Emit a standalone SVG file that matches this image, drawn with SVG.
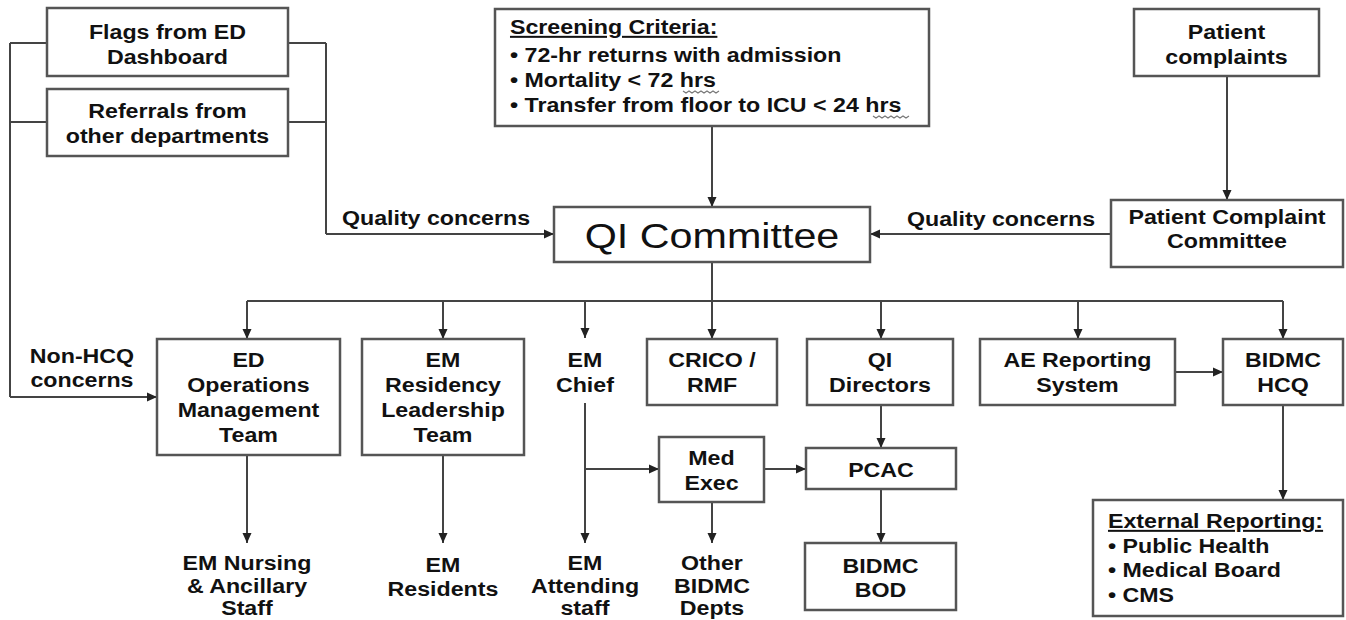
<svg xmlns="http://www.w3.org/2000/svg" width="1346" height="620" viewBox="0 0 1346 620">
<style>
  rect { fill: #fff; stroke: #555; stroke-width: 2.5; }
  text { font-family: "Liberation Sans", Arial, sans-serif; font-weight: bold; font-size: 20px; fill: #111; text-anchor: middle;
         transform-box: fill-box; transform-origin: center; transform: scaleX(1.16); }
  text.l { text-anchor: start; transform-origin: left center; }
  text.u { text-decoration: underline; }
  text.big { font-weight: normal; font-size: 35px; transform: scaleX(1.18); }
  #connectors path { fill: none; stroke: #444; stroke-width: 2; }
  #connectors path.arr { marker-end: url(#ah); }
  .squig { fill: none; stroke: #777; stroke-width: 1.2; }
</style>
<defs>
  <marker id="ah" markerUnits="userSpaceOnUse" markerWidth="10" markerHeight="10" refX="10" refY="5" orient="auto">
    <path d="M0,0.5 L10,5 L0,9.5 z" fill="#222"/>
  </marker>
</defs>
<rect x="0" y="0" width="1346" height="620" style="fill:#fff;stroke:none"/>

<g id="connectors">
  <!-- left sources to QI Committee -->
  <path d="M288,43 H326 M288,122 H326 M326,43 V234"/>
  <path class="arr" d="M326,234 H554"/>
  <!-- left sources to ED Ops (Non-HCQ) -->
  <path d="M47,43 H10 M47,122 H10 M10,43 V397"/>
  <path class="arr" d="M10,397 H157"/>
  <!-- screening to QI -->
  <path class="arr" d="M712,126 V207"/>
  <!-- patient complaints -->
  <path class="arr" d="M1227,76 V200"/>
  <path class="arr" d="M1111,234 H870"/>
  <!-- QI distribution bus -->
  <path d="M712,262 V301 M247,301 H1283"/>
  <path class="arr" d="M247,301 V339"/>
  <path class="arr" d="M443,301 V339"/>
  <path class="arr" d="M585,301 V338"/>
  <path class="arr" d="M712,301 V339"/>
  <path class="arr" d="M881,301 V339"/>
  <path class="arr" d="M1078,301 V339"/>
  <path class="arr" d="M1283,301 V339"/>
  <!-- lower level -->
  <path class="arr" d="M247,455 V543"/>
  <path class="arr" d="M443,455 V543"/>
  <path class="arr" d="M585,403 V543"/>
  <path class="arr" d="M585,469 H659"/>
  <path class="arr" d="M764,469 H806"/>
  <path class="arr" d="M712,502 V543"/>
  <path class="arr" d="M881,405 V448"/>
  <path class="arr" d="M881,489 V543"/>
  <path class="arr" d="M1175,372 H1223"/>
  <path class="arr" d="M1283,405 V500"/>
  <!-- labels -->
  <text x="436" y="225">Quality concerns</text>
  <text x="1001" y="226">Quality concerns</text>
  <text x="82" y="363">Non-HCQ</text>
  <text x="82" y="387">concerns</text>
</g>

<g id="flags">
  <rect x="47" y="8" width="241" height="68"/>
  <text x="167.5" y="39">Flags from ED</text>
  <text x="167.5" y="64">Dashboard</text>
</g>
<g id="referrals">
  <rect x="47" y="89" width="241" height="67"/>
  <text x="167.5" y="118">Referrals from</text>
  <text x="167.5" y="143">other departments</text>
</g>
<g id="screening">
  <rect x="495" y="9" width="434" height="117"/>
  <text class="l u" x="510" y="34">Screening Criteria:</text>
  <text class="l" x="510" y="62">• 72-hr returns with admission</text>
  <text class="l" x="510" y="87">• Mortality &lt; 72 hrs</text>
  <text class="l" x="510" y="112">• Transfer from floor to ICU &lt; 24 hrs</text>
  <path class="squig" d="M683,91 l3,2 l3,-2 l3,2 l3,-2 l3,2 l3,-2 l3,2 l3,-2 l3,2 l3,-2 l3,2 l3,-2"/>
  <path class="squig" d="M873,116 l3,2 l3,-2 l3,2 l3,-2 l3,2 l3,-2 l3,2 l3,-2 l3,2 l3,-2 l3,2 l3,-2"/>
</g>
<g id="patient-complaints">
  <rect x="1134" y="9" width="185" height="67"/>
  <text x="1226.5" y="39">Patient</text>
  <text x="1226.5" y="64">complaints</text>
</g>
<g id="qi-committee">
  <rect x="554" y="207" width="316" height="55"/>
  <text class="big" x="712" y="248">QI Committee</text>
</g>
<g id="patient-complaint-committee">
  <rect x="1111" y="200" width="232" height="67"/>
  <text x="1227" y="224">Patient Complaint</text>
  <text x="1227" y="248">Committee</text>
</g>
<g id="ed-operations">
  <rect x="157" y="339" width="183" height="116"/>
  <text x="248.5" y="367">ED</text>
  <text x="248.5" y="392">Operations</text>
  <text x="248.5" y="417">Management</text>
  <text x="248.5" y="442">Team</text>
</g>
<g id="em-residency">
  <rect x="362" y="339" width="162" height="116"/>
  <text x="443" y="367">EM</text>
  <text x="443" y="392">Residency</text>
  <text x="443" y="417">Leadership</text>
  <text x="443" y="442">Team</text>
</g>
<g id="em-chief">
  <text x="585" y="367">EM</text>
  <text x="585" y="392">Chief</text>
</g>
<g id="crico">
  <rect x="647" y="339" width="130" height="66"/>
  <text x="712" y="367">CRICO /</text>
  <text x="712" y="392">RMF</text>
</g>
<g id="qi-directors">
  <rect x="807" y="339" width="146" height="66"/>
  <text x="880" y="367">QI</text>
  <text x="880" y="392">Directors</text>
</g>
<g id="ae-reporting">
  <rect x="980" y="339" width="195" height="66"/>
  <text x="1077.5" y="367">AE Reporting</text>
  <text x="1077.5" y="392">System</text>
</g>
<g id="bidmc-hcq">
  <rect x="1223" y="339" width="120" height="66"/>
  <text x="1283" y="367">BIDMC</text>
  <text x="1283" y="392">HCQ</text>
</g>
<g id="med-exec">
  <rect x="659" y="437" width="105" height="65"/>
  <text x="711.5" y="465">Med</text>
  <text x="711.5" y="490">Exec</text>
</g>
<g id="pcac">
  <rect x="806" y="448" width="150" height="41"/>
  <text x="881" y="477">PCAC</text>
</g>
<g id="bidmc-bod">
  <rect x="805" y="543" width="151" height="67"/>
  <text x="880.5" y="573">BIDMC</text>
  <text x="880.5" y="597">BOD</text>
</g>
<g id="em-nursing">
  <text x="247" y="570">EM Nursing</text>
  <text x="247" y="593">&amp; Ancillary</text>
  <text x="247" y="615">Staff</text>
</g>
<g id="em-residents">
  <text x="443" y="572">EM</text>
  <text x="443" y="596">Residents</text>
</g>
<g id="em-attending">
  <text x="585" y="570">EM</text>
  <text x="585" y="593">Attending</text>
  <text x="585" y="615">staff</text>
</g>
<g id="other-depts">
  <text x="712" y="570">Other</text>
  <text x="712" y="593">BIDMC</text>
  <text x="712" y="615">Depts</text>
</g>
<g id="external-reporting">
  <rect x="1093" y="500" width="250" height="116"/>
  <text class="l u" x="1108" y="528">External Reporting:</text>
  <text class="l" x="1108" y="553">• Public Health</text>
  <text class="l" x="1108" y="577">• Medical Board</text>
  <text class="l" x="1108" y="602">• CMS</text>
</g>
</svg>
